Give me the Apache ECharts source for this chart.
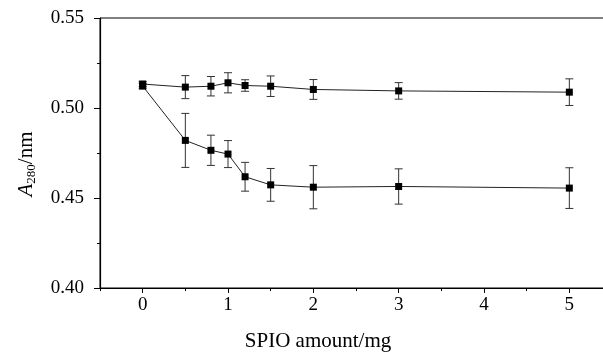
<!DOCTYPE html>
<html><head><meta charset="utf-8">
<script src="https://cdn.jsdelivr.net/npm/echarts@6/dist/echarts.min.js"></script>
<style>html,body{margin:0;padding:0;background:#fff}#c{width:603px;height:352px}</style>
</head><body><div id="c"></div>
<script>
const xValues = [0, 0.5, 0.8, 1.0, 1.2, 1.5, 2, 3, 5];
const upperMean = [0.5133, 0.5116, 0.5121, 0.5140, 0.5125, 0.5121, 0.5103, 0.5095, 0.5088];
const upperErr  = [0.0015, 0.0064, 0.0054, 0.0056, 0.0032, 0.0057, 0.0055, 0.0046, 0.0074];
const lowerMean = [0.5122, 0.4820, 0.4765, 0.4744, 0.4618, 0.4573, 0.4560, 0.4564, 0.4555];
const lowerErr  = [0.0015, 0.0150, 0.0084, 0.0075, 0.0080, 0.0091, 0.0120, 0.0098, 0.0113];
const xTickLabels = ['0', '1', '2', '3', '4', '5'];
const yTickLabels = ['0.40', '0.45', '0.50', '0.55'];

const FONT = '"Liberation Serif","Times New Roman",serif';
const chart = echarts.init(document.getElementById('c'));

function pts(m) { return xValues.map((x, i) => [x, m[i]]); }
function errs(m, e) { return xValues.map((x, i) => [x, m[i] - e[i], m[i] + e[i]]); }

function errRender(params, api) {
  const x = api.value(0);
  const lo = api.coord([x, api.value(1)]);
  const hi = api.coord([x, api.value(2)]);
  const w = 4;
  const st = { stroke: '#333', lineWidth: 1 };
  return { type: 'group', children: [
    { type: 'line', shape: { x1: lo[0], y1: lo[1], x2: hi[0], y2: hi[1] }, style: st },
    { type: 'line', shape: { x1: lo[0] - w, y1: lo[1], x2: lo[0] + w, y2: lo[1] }, style: st },
    { type: 'line', shape: { x1: hi[0] - w, y1: hi[1], x2: hi[0] + w, y2: hi[1] }, style: st }
  ]};
}

const lineSeries = (m) => ({
  type: 'line', data: pts(m), xAxisIndex: 0, symbol: 'rect', symbolSize: 7,
  itemStyle: { color: '#000' }, lineStyle: { color: '#222', width: 1 }, z: 3, animation: false
});
const errSeries = (m, e) => ({
  type: 'custom', data: errs(m, e), xAxisIndex: 0, renderItem: errRender, z: 2, animation: false,
  encode: { x: 0, y: [1, 2] }
});

chart.setOption({
  animation: false,
  grid: { left: 100, right: -9, top: 18, bottom: 64, containLabel: false, outerBoundsMode: 'none',
    show: true, borderColor: '#000', borderWidth: 1 },
  xAxis: [
    { type: 'value', min: -0.5, max: 5.5, interval: 1,
      axisLine: { onZero: false, lineStyle: { color: '#000', width: 1.2 } },
      axisTick: { show: true, length: 3, lineStyle: { color: '#000' } },
      minorTick: { show: true, splitNumber: 2, length: 5, lineStyle: { color: '#000' } },
      axisLabel: { show: false }, splitLine: { show: false },
      name: 'SPIO amount/mg', nameLocation: 'middle', nameGap: 43,
      nameTextStyle: { fontFamily: FONT, fontSize: 21, color: '#000', padding: [0, 76, 0, 0] } },
    { type: 'value', min: -0.5, max: 5.5, interval: 0.5, position: 'bottom',
      axisLine: { show: false, onZero: false }, axisTick: { show: false }, splitLine: { show: false },
      axisLabel: { margin: 8, fontFamily: FONT, fontSize: 19, color: '#000',
        formatter: v => { const r = Math.round(v); return Math.abs(v - r) < 1e-6 && r >= 0 && r <= 5 ? xTickLabels[r] : ''; } } }
  ],
  yAxis: {
    type: 'value', min: 0.4, max: 0.55, interval: 0.05,
    axisLine: { show: true, onZero: false, lineStyle: { color: '#000', width: 1.2 } },
    axisTick: { show: true, length: 6, lineStyle: { color: '#000' } },
    minorTick: { show: true, splitNumber: 2, length: 3, lineStyle: { color: '#000' } },
    splitLine: { show: false },
    axisLabel: { margin: 16, fontFamily: FONT, fontSize: 19, color: '#000',
      formatter: v => { const i = Math.round((v - 0.4) / 0.05); return yTickLabels[i] || ''; } },
    name: '{i|A}{s|280}{n|/nm}', nameLocation: 'middle', nameGap: 62, nameRotate: 90,
    nameTextStyle: { padding: [0, 22, 0, 0], align: 'center',
      rich: {
        i: { fontFamily: FONT, fontSize: 21, fontStyle: 'italic', color: '#000' },
        s: { fontFamily: FONT, fontSize: 13, color: '#000', padding: [10, 0, 0, 0] },
        n: { fontFamily: FONT, fontSize: 21, color: '#000' }
      } }
  },
  series: [
    errSeries(upperMean, upperErr), errSeries(lowerMean, lowerErr),
    lineSeries(upperMean), lineSeries(lowerMean)
  ]
});
</script></body></html>
